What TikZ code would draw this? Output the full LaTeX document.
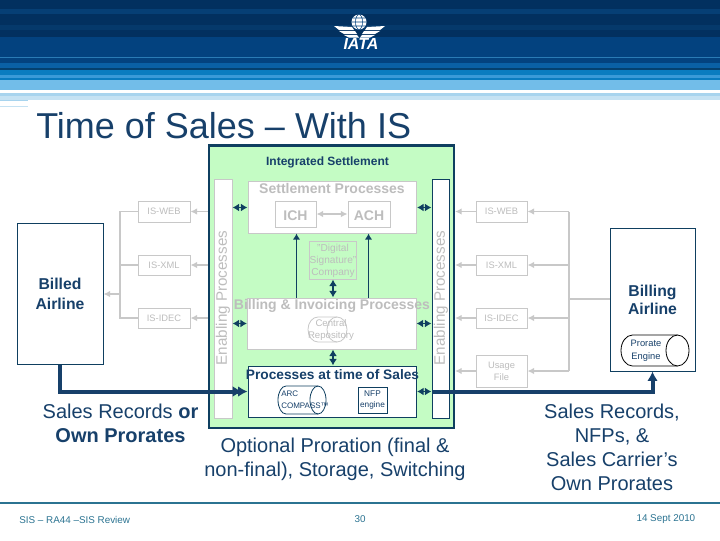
\documentclass[tikz,border=0pt]{standalone}
\usepackage{fontspec}
\setmainfont{Liberation Sans}
\usetikzlibrary{arrows.meta,calc}
\definecolor{navy}{HTML}{17406A}
\definecolor{edge}{HTML}{0F3F60}
\definecolor{grayline}{HTML}{C8C8C8}
\definecolor{graytext}{HTML}{BDBDBD}
\definecolor{paleg}{HTML}{C4FCC4}
\definecolor{foot}{HTML}{2B7391}
\definecolor{logoblue}{HTML}{03427F}
\definecolor{markA}{HTML}{A8D4EE}
\definecolor{markB}{HTML}{C5E2F3}
\tikzset{
  boxdark/.style={draw=edge,line width=0.75pt,fill=white},
  boxgray/.style={draw=grayline,line width=0.75pt,fill=white},
  boxgrayopen/.style={draw=grayline,line width=0.75pt},
  lab/.style={inner sep=0pt,align=center,text=navy},
  glab/.style={inner sep=0pt,align=center,text=graytext},
  graybar/.style={draw=grayline,line width=1.2pt},
  grayarrow/.style={draw=grayline,line width=1.2pt,-{Latex[length=5pt,width=5pt]}},
  darkdouble/.style={draw=edge,line width=1.2pt,{Latex[length=5pt,width=6pt]}-{Latex[length=5pt,width=6pt]}},
  darkup/.style={draw=edge,line width=0.9pt,-{Latex[length=4.5pt,width=5.5pt]}},
  thickbus/.style={draw=navy,line width=3pt}
}
\newcommand{\bxnode}[6]{\node[#6,inner sep=0pt,minimum width={(#4-#2)*0.75pt},minimum height={(#5-#3)*0.75pt}] (#1) at ({(#2+#4)/2},{(#3+#5)/2}) {};}
\newcommand{\cylnode}[7]{%
  \draw[#7,line width=0.6pt] (#2+#6,#3) -- (#4-#6,#3) arc[start angle=90,end angle=-90,x radius=#6*0.75pt,y radius={(#5-#3)/2*0.75pt}] -- (#2+#6,#5) arc[start angle=270,end angle=90,x radius=#6*0.75pt,y radius={(#5-#3)/2*0.75pt}] -- cycle;
  \draw[#7,line width=0.6pt] (#4-#6,#3) arc[start angle=90,end angle=270,x radius=#6*0.75pt,y radius={(#5-#3)/2*0.75pt}];
  \node[inner sep=0pt,minimum width={(#4-#2)*0.75pt},minimum height={(#5-#3)*0.75pt}] (#1) at ({(#2+#4)/2},{(#3+#5)/2}) {};}
\begin{document}
\begin{tikzpicture}[x=0.75pt,y=-0.75pt]
\useasboundingbox (0,0) rectangle (720,540);
% header bands
\foreach \ya/\yb/\c in {0/9/02305F,9/14/063F75,14/25/02305F,25/30/05396B,30/37/02305F,37/57/03427F,57/58/2A7BB5,58/63/03427F,63/68/0A60A5,68/70/04406F,70/75/0A7CC0,75/78/3A9AD8,78/80/0A7CC0,80/90/72BDE9,90/93/FFFFFF,93/96/A8D4EE,96/100/C5E2F3}{
  \definecolor{bandc}{HTML}{\c}
  \fill[bandc] (0,\ya) rectangle (720,\yb);
}
\draw[markA,line width=0.75pt] (0,100) -- (28,100);
\draw[markB,line width=0.75pt] (0,106) -- (28,106);
% logo
\fill[white] (359,22) circle[radius=7.5];
\draw[logoblue,line width=0.4pt] (359,22) circle[x radius=3.5,y radius=7.5] (351.5,22) -- (366.5,22) (352.5,18) -- (365.5,18) (352.5,26) -- (365.5,26);
\fill[white] (334,26) -- (352,27) -- (354,30) -- (339,30) -- cycle;
\fill[white] (339,31) -- (355,31) -- (357,34) -- (344,34) -- cycle;
\fill[white] (344,35) -- (357,35) -- (359,37.5) -- (349,37.5) -- cycle;
\fill[white] (385,26) -- (367,27) -- (365,30) -- (380,30) -- cycle;
\fill[white] (380,31) -- (364,31) -- (362,34) -- (375,34) -- cycle;
\fill[white] (375,35) -- (362,35) -- (360,37.5) -- (370,37.5) -- cycle;
\node[inner sep=0pt,text=white,font=\fontsize{12}{13}\selectfont\bfseries\itshape] (iata) at (361,44) {IATA};
% title
\node[lab,anchor=west,font=\fontsize{27}{30}\selectfont] (title) at (36,126) {Time of Sales – With IS};
% green container
\bxnode{green}{209}{145.5}{454}{428}{draw=edge,line width=1.6pt,fill=paleg}
\bxnode{enL}{214}{179}{232}{418}{boxgray}
\bxnode{enR}{432}{179}{449}{418}{boxdark}
\bxnode{settle}{248}{181}{416.5}{233}{boxgray}
\bxnode{ich}{275.5}{201}{316}{227}{boxgray}
\bxnode{ach}{348}{201}{390}{227}{boxgray}
\bxnode{digi}{309.5}{241}{356}{279}{boxgrayopen}
\bxnode{bill}{247.5}{298}{416}{349}{boxgray}
\bxnode{proc}{248}{366}{416.5}{417}{boxdark}
\bxnode{nfp}{358}{387}{387}{413}{boxdark}
\cylnode{central}{308}{317}{347}{342}{10}{draw=grayline}
\cylnode{arc}{278}{386}{326}{414}{8}{draw=edge}
% left side
\bxnode{billed}{17}{223}{103}{364}{boxdark}
\bxnode{webL}{138}{201}{190}{222}{boxgray}
\bxnode{xmlL}{138}{255}{190}{275}{boxgray}
\bxnode{idecL}{138}{308}{190}{328}{boxgray}
\coordinate (busL) at (120,294);
\draw[graybar] (webL.west) -| (busL) |- (idecL.west);
\draw[graybar,line width=1.6pt] (busL |- xmlL.west) -- (xmlL.west);
\draw[grayarrow] (busL) -- (billed.east |- busL);
\draw[grayarrow] (green.west |- webL.east) -- (webL.east);
\draw[grayarrow] (green.west |- xmlL.east) -- (xmlL.east);
\draw[grayarrow] (green.west |- idecL.east) -- (idecL.east);
% right side
\bxnode{airline}{610}{228}{695}{371}{boxdark}
\cylnode{prorate}{621}{335}{689}{366}{11.5}{draw=black}
\bxnode{webR}{476}{201}{527}{222}{boxgray}
\bxnode{xmlR}{476}{255}{527}{275}{boxgray}
\bxnode{idecR}{476}{308}{527}{328}{boxgray}
\bxnode{useR}{476}{355}{527}{387}{boxgray}
\coordinate (busR) at (569,299);
\draw[graybar,line width=0.8pt] (busR) -- (airline.west |- busR);
\draw[graybar,line width=1.5pt] (busR |- webR.east) -- (busR |- useR.east);
\draw[grayarrow] (busR |- webR.east) -- (webR.east);
\draw[grayarrow] (busR |- xmlR.east) -- (xmlR.east);
\draw[grayarrow] (busR |- idecR.east) -- (idecR.east);
\draw[grayarrow] (busR |- useR.east) -- (useR.east);
\draw[grayarrow] (webR.west) -- (green.east |- webR.west);
\draw[grayarrow] (xmlR.west) -- (green.east |- xmlR.west);
\draw[grayarrow] (idecR.west) -- (green.east |- idecR.west);
\draw[grayarrow] (useR.west) -- (green.east |- useR.west);
% inner arrows
\draw[darkdouble] (enL.east |- 0,207.5) -- (settle.west |- 0,207.5);
\draw[darkdouble] (settle.east |- 0,207.5) -- (enR.west |- 0,207.5);
\draw[darkdouble] (enL.east |- 0,323.5) -- (bill.west |- 0,323.5);
\draw[darkdouble] (bill.east |- 0,323.5) -- (enR.west |- 0,323.5);
\draw[grayline,line width=1.2pt,{Latex[length=5pt,width=5pt]}-{Latex[length=5pt,width=5pt]}] (ich.east) -- (ach.west);
\draw[darkup] (296.5,0 |- bill.north) -- (296.5,0 |- settle.south);
\draw[darkup] (368.5,0 |- bill.north) -- (368.5,0 |- settle.south);
\draw[darkdouble] (333,0 |- digi.south) -- (333,0 |- bill.north);
\draw[darkdouble] (333,0 |- bill.south) -- (333,0 |- proc.north);
% thick flows
\draw[thickbus,-{Latex[length=7pt,width=8pt]}] (billed.south) |- (proc.west);
\draw[draw=navy,line width=1pt,-{Latex[length=7pt,width=8pt]}] (236,391.5) -- (242,391.5);
\draw[darkdouble] (proc.east) -- (enR.west |- proc.east);
\draw[thickbus,-{Latex[length=7pt,width=8pt]}] (enR.west |- proc.east) -| (airline.south);
% labels
\node[lab,font=\fontsize{9}{10}\selectfont\bfseries] (t1) at (327.5,162) {Integrated Settlement};
\node[glab,font=\fontsize{10.5}{11}\selectfont\bfseries] (t2) at (332,188) {Settlement Processes};
\node[glab,font=\fontsize{10.5}{12}\selectfont\bfseries] at (295.5,215.5) {ICH};
\node[glab,font=\fontsize{10.5}{12}\selectfont\bfseries] at (369,215.5) {ACH};
\node[glab,font=\fontsize{7.6}{9}\selectfont] at (333,260.5) {"Digital\\Signature"\\Company};
\node[glab,font=\fontsize{10.5}{12}\selectfont\bfseries] (t3) at (332,306) {Billing \& Invoicing Processes};
\node[glab,font=\fontsize{7.2}{9.7}\selectfont] at (331,330) {Central\\Repository};
\node[lab,font=\fontsize{10.3}{11}\selectfont\bfseries] (t4) at (332.5,375) {Processes at time of Sales};
\node[lab,font=\fontsize{6}{9}\selectfont,align=left] at (305,399.5) {ARC\\COMPASS™};
\node[lab,font=\fontsize{6.2}{8.3}\selectfont] at (nfp) {NFP\\engine};
\node[glab,rotate=90,font=\fontsize{11.4}{12}\selectfont] at (223,298) {Enabling Processes};
\node[glab,rotate=90,font=\fontsize{11.4}{12}\selectfont] at (441,298) {Enabling Processes};
\node[glab,font=\fontsize{7}{8}\selectfont] at (webL) {IS-WEB};
\node[glab,font=\fontsize{7}{8}\selectfont] at (xmlL) {IS-XML};
\node[glab,font=\fontsize{7}{8}\selectfont] at (idecL) {IS-IDEC};
\node[glab,font=\fontsize{7}{8}\selectfont] at (webR) {IS-WEB};
\node[glab,font=\fontsize{7}{8}\selectfont] at (xmlR) {IS-XML};
\node[glab,font=\fontsize{7}{8}\selectfont] at (idecR) {IS-IDEC};
\node[glab,font=\fontsize{7}{9}\selectfont] at (useR) {Usage\\File};
\node[lab,font=\fontsize{11.8}{15}\selectfont\bfseries] at (60,294) {Billed\\Airline};
\node[lab,font=\fontsize{11.8}{14}\selectfont\bfseries] at (652.5,300) {Billing\\Airline};
\node[lab,font=\fontsize{7}{9.5}\selectfont] at (646,351) {Prorate\\Engine};
\node[lab,font=\fontsize{15}{18}\selectfont] (c1) at (120.5,423) {Sales Records \textbf{or}\\\textbf{Own Prorates}};
\node[lab,font=\fontsize{15}{18}\selectfont] (c2) at (335,459) {Optional Proration (final \&\\non-final), Storage, Switching};
\node[lab,font=\fontsize{15}{18}\selectfont] (c3) at (612,447) {Sales Records,\\NFPs, \&\\Sales Carrier’s\\Own Prorates};
% footer
\coordinate (fl) at (0,503); \coordinate (fr) at (720,503);
\draw[foot,line width=1.5pt] (fl) -- (fr);
\node[inner sep=0pt,text=foot,font=\fontsize{7.4}{9}\selectfont,anchor=west] at (19,519.5) {SIS – RA44 –SIS Review};
\node[inner sep=0pt,text=foot,font=\fontsize{7.4}{9}\selectfont] at (360,519.5) {30};
\node[inner sep=0pt,text=foot,font=\fontsize{7.4}{9}\selectfont,anchor=east] at (695.5,519.5) {14 Sept 2010};
\end{tikzpicture}
\end{document}
